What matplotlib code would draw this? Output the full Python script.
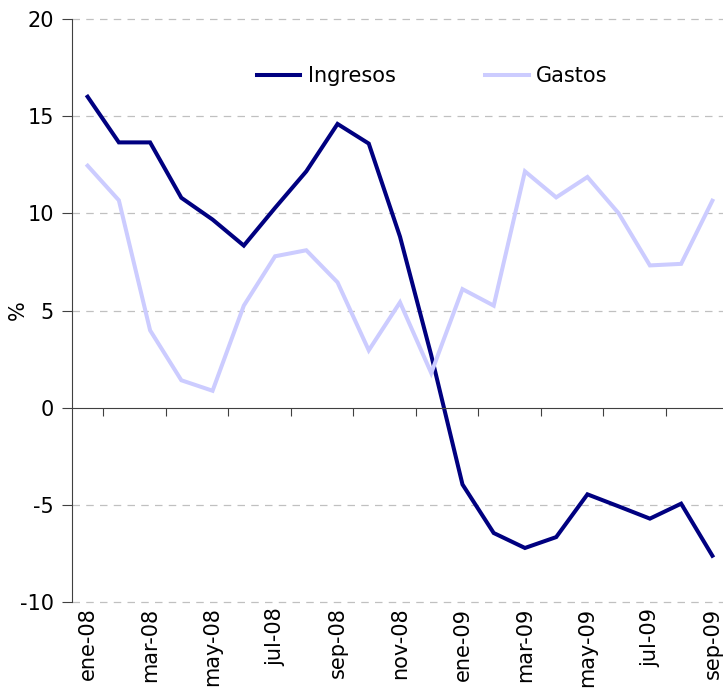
import matplotlib
matplotlib.use("Agg")
import matplotlib.pyplot as plt

months = ["ene-08", "feb-08", "mar-08", "abr-08", "may-08", "jun-08", "jul-08",
          "ago-08", "sep-08", "oct-08", "nov-08", "dic-08", "ene-09", "feb-09",
          "mar-09", "abr-09", "may-09", "jun-09", "jul-09", "ago-09", "sep-09"]
ingresos = [16.0, 13.65, 13.65, 10.8, 9.68, 8.34, 10.28, 12.16, 14.6, 13.59,
            8.8, 2.7, -3.95, -6.45, -7.22, -6.66, -4.46, -5.08, -5.71, -4.94, -7.62]
gastos = [12.45, 10.67, 3.98, 1.41, 0.87, 5.25, 7.79, 8.1, 6.45, 2.95,
          5.42, 1.78, 6.1, 5.25, 12.16, 10.82, 11.87, 10.0, 7.32, 7.4, 10.65]
yticks = [-10, -5, 0, 5, 10, 15, 20]

plt.rcParams['font.family'] = ['DejaVu Sans']
fig = plt.figure(figsize=(7.23, 6.99), dpi=100)
ax = fig.add_axes([72/723, 1 - 602/699, 656/723, 583/699])

x = list(range(len(months)))
ax.plot(x, ingresos, color="#000080", lw=2.9, label="Ingresos", solid_joinstyle="miter")
ax.plot(x, gastos, color="#CCCCFF", lw=2.9, label="Gastos", solid_joinstyle="miter")

ax.set_xlim(-0.5, len(months) - 0.5)
ax.set_ylim(-10, 20)
ax.set_yticks(yticks)
ax.set_yticklabels([str(v) for v in yticks], fontsize=15)
for v in yticks:
    if v != 0:
        ax.axhline(v, color="#c0c0c0", lw=0.9, ls=(0, (6, 5)), zorder=0, clip_on=False)

for s in ["top", "right"]:
    ax.spines[s].set_visible(False)
ax.spines["bottom"].set_position(("data", 0))
ax.spines["left"].set_color("#404040")
ax.spines["bottom"].set_color("#404040")
ax.tick_params(axis="y", direction="out", length=7, color="#404040", pad=6)

ax.set_xticks([i - 0.5 for i in range(1, len(months), 2)])
ax.set_xticklabels([])
ax.tick_params(axis="x", direction="out", length=6, color="#404040")

sec = ax.secondary_xaxis(0)
sec.set_xticks(x[::2])
sec.set_xticklabels(months[::2], rotation=90, fontsize=15)
sec.tick_params(axis="x", length=0, pad=4)
sec.spines["bottom"].set_visible(False)

ax.set_ylabel("%", fontsize=15)
ax.yaxis.set_label_coords(-0.068, 0.5)

ax.legend(loc="center", bbox_to_anchor=(0.549, 0.902), ncol=2, frameon=False,
          fontsize=15, handlelength=2.1, handletextpad=0.35, columnspacing=4.3)

fig.savefig("out.png", dpi=100)
